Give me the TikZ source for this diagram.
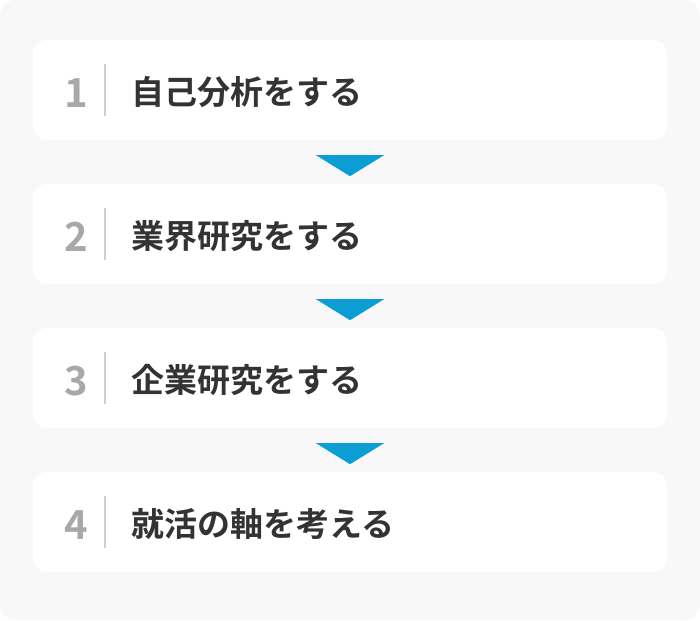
\documentclass[tikz,border=0pt]{standalone}
\usepackage{fontspec}
\setmainfont{Noto Sans CJK JP}[BoldFont={Noto Sans CJK JP Bold}]
\usepackage{tikz}
\usepackage{xcolor}
\usetikzlibrary{calc}
\definecolor{bggray}{HTML}{F8F8F8}
\definecolor{numgray}{HTML}{A8A8A8}
\definecolor{rulegray}{HTML}{CFCFCF}
\definecolor{textdark}{HTML}{333333}
\definecolor{arrowblue}{HTML}{0A9ED5}
\tikzset{
	stepbox/.style={rectangle, fill=white, rounded corners=14pt, minimum width=634pt, minimum height=100pt, inner sep=0pt},
	stepnum/.style={text=numgray, font=\fontsize{40}{40}\selectfont\bfseries, inner sep=0pt},
	steptext/.style={anchor=west, text=textdark, font=\fontsize{33}{33}\selectfont\bfseries, inner sep=0pt},
	steprule/.style={draw=rulegray, line width=1.6pt},
	downtri/.style={fill=arrowblue}
}

\begin{document}
\begin{tikzpicture}[x=1pt, y=-1pt]
	\useasboundingbox (0,0) rectangle (700,620);
	\fill [bggray, rounded corners=16pt] (0,0) rectangle (700,620);
	% boxes
	\node [stepbox] (b1) at (350, 90) {};
	\node [stepbox] (b2) at (350, 234) {};
	\node [stepbox] (b3) at (350, 378) {};
	\node [stepbox] (b4) at (350, 522) {};
	% numbers
	\node [stepnum] (n1) at ($(b1.center)+(-274, 3)$) {1};
	\node [stepnum] (n2) at ($(b2.center)+(-274, 3)$) {2};
	\node [stepnum] (n3) at ($(b3.center)+(-274, 3)$) {3};
	\node [stepnum] (n4) at ($(b4.center)+(-274, 3)$) {4};
	% separators
	\draw [steprule] ($(b1.center)+(-245, -26)$) -- ($(b1.center)+(-245, 26)$);
	\draw [steprule] ($(b2.center)+(-245, -26)$) -- ($(b2.center)+(-245, 26)$);
	\draw [steprule] ($(b3.center)+(-245, -26)$) -- ($(b3.center)+(-245, 26)$);
	\draw [steprule] ($(b4.center)+(-245, -26)$) -- ($(b4.center)+(-245, 26)$);
	% labels
	\node [steptext] (t1) at ($(b1.center)+(-219, 2)$) {自己分析をする};
	\node [steptext] (t2) at ($(b2.center)+(-219, 2)$) {業界研究をする};
	\node [steptext] (t3) at ($(b3.center)+(-219, 2)$) {企業研究をする};
	\node [steptext] (t4) at ($(b4.center)+(-219, 2)$) {就活の軸を考える};
	% arrows
	\fill [downtri] ($(b1.south)+(-34, 15)$) -- ($(b1.south)+(34, 15)$) -- ($(b1.south)+(0, 36)$) -- cycle;
	\fill [downtri] ($(b2.south)+(-34, 15)$) -- ($(b2.south)+(34, 15)$) -- ($(b2.south)+(0, 36)$) -- cycle;
	\fill [downtri] ($(b3.south)+(-34, 15)$) -- ($(b3.south)+(34, 15)$) -- ($(b3.south)+(0, 36)$) -- cycle;
\end{tikzpicture}
\end{document}
